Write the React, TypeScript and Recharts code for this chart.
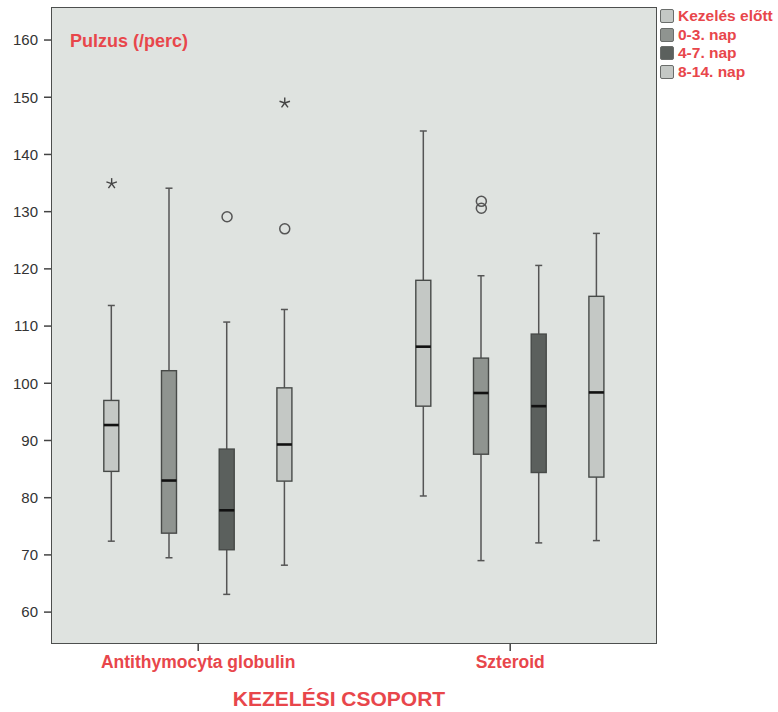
import { ComposedChart, Bar, Scatter, XAxis, YAxis, CartesianGrid } from 'recharts'

// categories
const groups = ['Antithymocyta globulin', 'Szteroid']
const periods = ['Kezelés előtt', '0-3. nap', '4-7. nap', '8-14. nap']

// box statistics per group (rows) and period (columns)
const boxMin = [
  [72.4, 69.5, 63.1, 68.2],
  [80.3, 69.0, 72.1, 72.5],
]
const boxQ1 = [
  [84.6, 73.8, 70.9, 82.9],
  [96.0, 87.6, 84.4, 83.6],
]
const boxMedian = [
  [92.7, 83.0, 77.8, 89.3],
  [106.4, 98.3, 96.0, 98.4],
]
const boxQ3 = [
  [97.0, 102.2, 88.5, 99.2],
  [118.0, 104.4, 108.6, 115.2],
]
const boxMax = [
  [113.6, 134.1, 110.7, 112.9],
  [144.1, 118.8, 120.6, 126.2],
]

// outliers: [group, period, value, kind]
const outliers: [number, number, number, 'circle' | 'star'][] = [
  [0, 0, 134.9, 'star'],
  [0, 2, 129.1, 'circle'],
  [0, 3, 127.0, 'circle'],
  [0, 3, 149.0, 'star'],
  [1, 1, 131.8, 'circle'],
  [1, 1, 130.6, 'circle'],
]

const yTicks = [60, 70, 80, 90, 100, 110, 120, 130, 140, 150, 160]

const periodColors = ['#c4c8c5', '#8f9490', '#5b605d', '#c4c8c5']
const slotOffset = [-0.2774, -0.0925, 0.0925, 0.2774]
const red = '#e8464b'
const font = '"Liberation Sans", Arial, Helvetica, sans-serif'

const boxData = groups.flatMap((g, gi) =>
  periods.map((p, pi) => ({
    x: gi + 1 + slotOffset[pi],
    group: g,
    period: p,
    min: boxMin[gi][pi],
    q1: boxQ1[gi][pi],
    med: boxMedian[gi][pi],
    q3: boxQ3[gi][pi],
    max: boxMax[gi][pi],
    range: [boxMin[gi][pi], boxMax[gi][pi]],
    color: periodColors[pi],
  }))
)

const outlierData = outliers.map(([gi, pi, v, kind]) => ({
  x: gi + 1 + slotOffset[pi],
  y: v,
  kind,
}))

function BoxShape(props: any) {
  const { x, y, width, height, payload } = props
  if (payload == null || height == null) return null
  const { min, q1, med, q3, max, color } = payload
  const top = Math.min(y, y + height)
  const h = Math.abs(height)
  const ppu = h / (max - min)
  const py = (v: number) => top + (max - v) * ppu
  const cx = x + width / 2
  const cap = 3.5
  const wl = { stroke: '#555', strokeWidth: 1.5 }
  return (
    <g>
      <line x1={cx} x2={cx} y1={py(max)} y2={py(q3)} {...wl} />
      <line x1={cx} x2={cx} y1={py(q1)} y2={py(min)} {...wl} />
      <line x1={cx - cap} x2={cx + cap} y1={py(max)} y2={py(max)} {...wl} />
      <line x1={cx - cap} x2={cx + cap} y1={py(min)} y2={py(min)} {...wl} />
      <rect
        x={x}
        y={py(q3)}
        width={width}
        height={py(q1) - py(q3)}
        fill={color}
        stroke="#474a48"
        strokeWidth={1.4}
      />
      <line x1={x} x2={x + width} y1={py(med)} y2={py(med)} stroke="#111" strokeWidth={2.6} />
    </g>
  )
}

function OutlierShape(props: any) {
  const { cx, cy, payload } = props
  if (payload.kind === 'star') {
    const arms = [0, 72, 144, 216, 288].map((a) => {
      const r = ((a - 90) * Math.PI) / 180
      return (
        <line
          key={a}
          x1={cx}
          y1={cy}
          x2={cx + Math.cos(r) * 5.5}
          y2={cy + Math.sin(r) * 5.5}
          stroke="#444"
          strokeWidth={1.4}
        />
      )
    })
    return <g>{arms}</g>
  }
  return <circle cx={cx} cy={cy} r={5} fill="none" stroke="#555" strokeWidth={1.5} />
}

export default function App() {
  return (
    <div style={{ position: 'relative', width: 778, height: 712, fontFamily: font }}>
      <style>{'body{margin:0}'}</style>
      <ComposedChart
        width={778}
        height={712}
        data={boxData}
        margin={{ top: 8, right: 122, bottom: 0, left: 12 }}
      >
        <CartesianGrid fill="#dfe3e0" horizontal={false} vertical={false} />
        <XAxis
          dataKey="x"
          type="number"
          domain={[0.5314, 2.4673]}
          allowDataOverflow
          ticks={[1, 2]}
          tickFormatter={(v: number) => groups[Math.round(v) - 1]}
          axisLine={false}
          tickSize={8}
          tickMargin={5}
          height={69}
          tickLine={{ stroke: '#444', strokeWidth: 1.5 }}
          tick={{ fill: red, fontSize: 17.5, fontWeight: 700, fontFamily: font }}
          label={{
            value: 'KEZELÉSI CSOPORT',
            position: 'insideBottom',
            offset: 6,
            dx: -15,
            fill: red,
            fontSize: 21,
            fontWeight: 700,
            fontFamily: font,
          }}
        />
        <YAxis
          type="number"
          domain={[54.6, 165.6]}
          allowDataOverflow
          ticks={yTicks}
          width={40}
          axisLine={false}
          tickSize={8}
          tickMargin={6}
          tickLine={{ stroke: '#444', strokeWidth: 1.5 }}
          tick={{ fill: '#333', fontSize: 15, fontFamily: font }}
        />
        <Bar dataKey="range" barSize={15} shape={<BoxShape />} isAnimationActive={false} />
        <Scatter data={outlierData} dataKey="y" shape={<OutlierShape />} isAnimationActive={false} />
      </ComposedChart>

      <div
        style={{
          position: 'absolute',
          left: 51,
          top: 7,
          width: 606,
          height: 637,
          border: '1.5px solid #4d4f4e',
          boxSizing: 'border-box',
          pointerEvents: 'none',
        }}
      />

      <div
        style={{
          position: 'absolute',
          left: 70,
          top: 30,
          fontSize: 18,
          fontWeight: 700,
          color: red,
          lineHeight: '22px',
        }}
      >
        Pulzus (/perc)
      </div>

      <div style={{ position: 'absolute', left: 660, top: 7 }}>
        {periods.map((p, i) => (
          <div key={p} style={{ display: 'flex', alignItems: 'center', height: 18.5 }}>
            <span
              style={{
                display: 'inline-block',
                width: 14,
                height: 14,
                background: periodColors[i],
                border: '1px solid #6a6d6b',
                borderRadius: 2,
                boxSizing: 'border-box',
                marginRight: 4,
                flexShrink: 0,
              }}
            />
            <span style={{ fontSize: 15.5, fontWeight: 700, color: red, whiteSpace: 'nowrap' }}>{p}</span>
          </div>
        ))}
      </div>
    </div>
  )
}
